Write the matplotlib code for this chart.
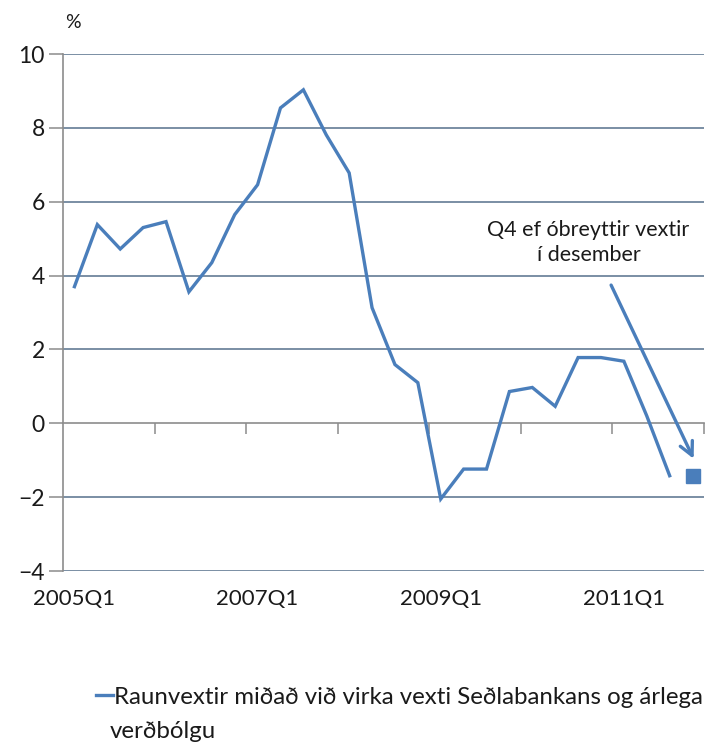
import numpy as np
import matplotlib.pyplot as plt
from matplotlib.lines import Line2D

plt.rcParams['font.family'] = ['Lato', 'DejaVu Sans']

# Real interest rate, quarterly, 2005Q1 - 2011Q3
quarters = [f'{y}Q{q}' for y in range(2005, 2012) for q in range(1, 5)]
real_rate = [3.70, 5.38, 4.72, 5.30, 5.46, 3.56, 4.35, 5.65,
             6.46, 8.54, 9.03, 7.81, 6.78, 3.13, 1.59, 1.10,
             -2.05, -1.24, -1.24, 0.86, 0.97, 0.46, 1.78, 1.78,
             1.68, 0.20, -1.42]
# Q4 2011 if rates are unchanged in December
q4_estimate = -1.44
tick_labels = ['2005Q1', '2007Q1', '2009Q1', '2011Q1']

blue = '#4a7ebb'
grid_col = '#56708c'
axis_col = '#8c8c8c'
txt = '#1a1a1a'

fig = plt.figure(figsize=(7.13, 7.44), dpi=100)
ax = fig.add_axes([63/713, 1 - 571/744, 641/713, 517/744])

x = np.arange(len(real_rate))
ax.plot(x, real_rate, color=blue, lw=2.4, solid_joinstyle='miter', zorder=3)
ax.plot([len(quarters) - 1], [q4_estimate], marker='s', ms=10, color=blue,
        ls='none', zorder=3)

ax.set_xlim(-0.5, len(quarters) - 0.5)
ax.set_ylim(-4, 10)
ax.set_yticks(np.arange(-4, 11, 2))
for v in np.arange(-4, 11, 2):
    if v != 0:
        ax.axhline(v, color=grid_col, lw=1.1, zorder=1)

for s in ['top', 'right', 'bottom']:
    ax.spines[s].set_visible(False)
ax.spines['left'].set_color(axis_col)
ax.spines['left'].set_linewidth(1.2)
ax.tick_params(axis='y', length=10, width=1.1, color=axis_col,
               labelsize=16.5, pad=3, labelcolor=txt)

# category labels every 8 quarters, below the plot
ax.set_xticks([quarters.index(t) for t in tick_labels])
ax.set_xticklabels(tick_labels)
ax.tick_params(axis='x', length=0, labelsize=16, pad=13, labelcolor=txt)

# category axis crossing at zero with tick marks every 4 quarters
zero_axis = ax.secondary_xaxis(4 / 14)
zero_axis.spines['bottom'].set_color(axis_col)
zero_axis.spines['bottom'].set_linewidth(1.2)
zero_axis.set_xticks(np.arange(3.5, len(quarters), 4))
zero_axis.tick_params(axis='x', length=8, width=1.1, color=axis_col,
                      direction='out', labelbottom=False)

fig.text(65/713, 1 - 22/744, '%', fontsize=14, ha='left', va='center', color=txt)

ax.annotate('', xy=(27.1, -1.03), xytext=(23.39, 3.81),
            arrowprops=dict(arrowstyle='->', color=blue, lw=2.4,
                            mutation_scale=24), zorder=4)
ax.text(22.45, 4.9, 'Q4 ef óbreyttir vextir\ní desember', fontsize=15.5,
        ha='center', va='center', linespacing=1.35, color=txt)

handle = Line2D([], [], color=blue, lw=2.4)
fig.legend([handle], ['Raunvextir miðað við virka vexti Seðlabankans og árlega'],
           loc='center left', bbox_to_anchor=(96/713, 1 - 697/744),
           frameon=False, fontsize=17.3, handlelength=0.7, handletextpad=0.05,
           borderaxespad=0, borderpad=0, labelcolor=txt)
fig.text(110/713, 1 - 731/744, 'verðbólgu', fontsize=17.3, ha='left',
         va='center', color=txt)

fig.savefig('out.png', dpi=100)
